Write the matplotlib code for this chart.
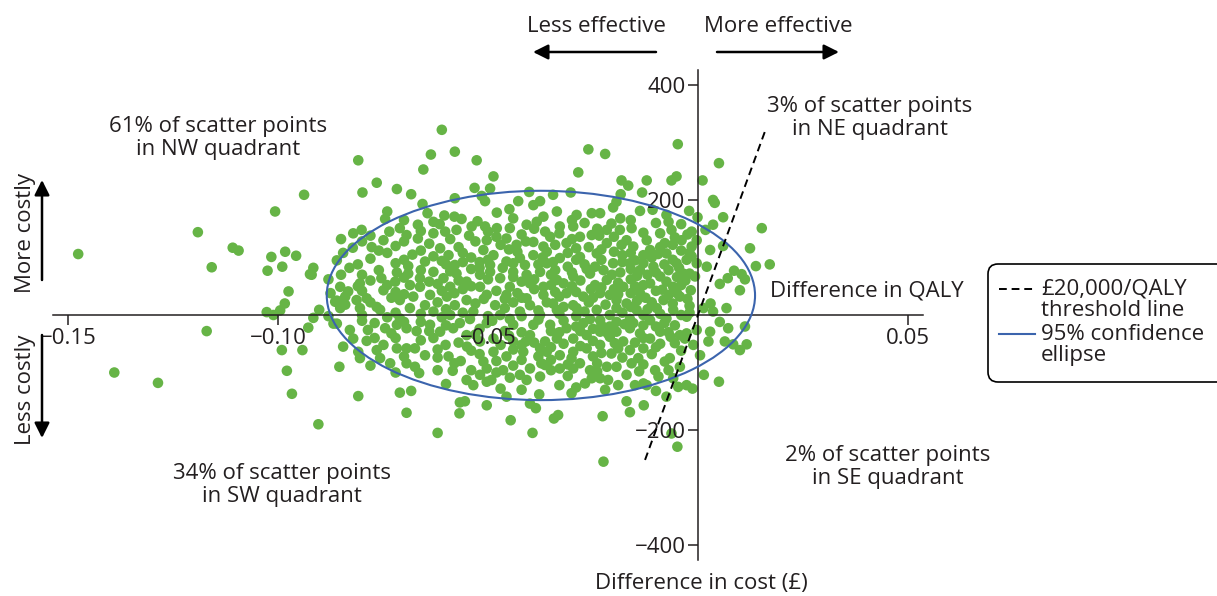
import matplotlib
matplotlib.use("Agg")
import matplotlib.pyplot as plt
from matplotlib.patches import Ellipse, FancyBboxPatch

plt.rcParams["font.family"] = ["Open Sans", "DejaVu Sans"]

west_points = [
    (-0.1476, 106), (-0.1191, 144), (-0.1158, 83), (-0.1108, 117), (-0.1094, 112),
    (-0.1007, 180), (-0.0938, 209), (-0.1016, 101), (-0.0983, 110), (-0.0957, 103),
    (-0.1025, 77), (-0.0990, 84), (-0.0924, 71), (-0.0975, 41), (-0.0984, 20),
    (-0.0995, 8), (-0.1027, 5), (-0.1011, 0), (-0.0916, 82), (-0.0920, 70),
    (-0.1170, -28), (-0.0991, -61), (-0.0942, -61), (-0.0928, -22), (-0.0916, -5),
    (-0.0902, 9), (-0.0868, -15), (-0.0864, 23), (-0.1390, -100), (-0.1286, -118),
    (-0.0979, -97), (-0.0967, -137), (-0.0854, -90), (-0.0809, -141), (-0.0904, -190),
]

north_points = [
    (-0.0610, 322), (-0.0579, 284), (-0.0636, 279), (-0.0527, 269), (-0.0809, 269),
    (-0.0654, 253), (-0.0487, 241), (-0.0765, 230), (-0.0799, 213), (-0.0717, 219),
    (-0.0683, 210), (-0.0532, 221), (-0.0495, 220), (-0.0579, 203), (-0.0515, 207),
    (-0.0507, 198), (-0.0048, 297), (-0.0261, 288), (-0.0221, 280), (-0.0285, 248),
    (-0.0182, 234), (-0.0166, 225), (-0.0122, 234), (-0.0063, 234), (-0.0051, 241),
    (-0.0133, 213), (-0.0184, 210), (-0.0303, 213), (-0.0345, 209), (-0.0194, 197),
    (-0.0202, 187),
]

core_upper = [
    (-0.0656, 193), (-0.0740, 180), (-0.0745, 167), (-0.0644, 177), (-0.0630, 162),
    (-0.0604, 173), (-0.0479, 178), (-0.0449, 184), (-0.0428, 198), (-0.0402, 214),
    (-0.0392, 191), (-0.0376, 198), (-0.0580, 171), (-0.0563, 167), (-0.0850, 132),
    (-0.0821, 142), (-0.0801, 148), (-0.0845, 108), (-0.0822, 117), (-0.0777, 118),
    (-0.0749, 130), (-0.0710, 151), (-0.0694, 139), (-0.0667, 157), (-0.0667, 133),
    (-0.0630, 142), (-0.0602, 145), (-0.0575, 148), (-0.0539, 154), (-0.0507, 154),
    (-0.0479, 151), (-0.0448, 151), (-0.0408, 157), (-0.0384, 162), (-0.0364, 145),
    (-0.0503, 130), (-0.0456, 133), (-0.0432, 122), (-0.0392, 127), (-0.0680, 105),
    (-0.0650, 93), (-0.0614, 116), (-0.0594, 104), (-0.0560, 92), (-0.0511, 113),
    (-0.0487, 104), (-0.0456, 93), (-0.0424, 99), (-0.0392, 104), (-0.0360, 110),
    (-0.0760, 78), (-0.0754, 64), (-0.0717, 74), (-0.0721, 58), (-0.0805, 55),
    (-0.0852, 49), (-0.0833, 41), (-0.0860, 25), (-0.0813, 26), (-0.0789, 29),
    (-0.0749, 43), (-0.0686, 52), (-0.0662, 64), (-0.0630, 75), (-0.0606, 64),
    (-0.0575, 72), (-0.0551, 58), (-0.0519, 70), (-0.0495, 75), (-0.0471, 64),
    (-0.0440, 75), (-0.0408, 70), (-0.0376, 75), (-0.0678, 32), (-0.0638, 35),
    (-0.0598, 32), (-0.0551, 26), (-0.0503, 35), (-0.0456, 35), (-0.0408, 29),
    (-0.0368, 35), (-0.0710, 26), (-0.0765, 14), (-0.0662, 49), (-0.0590, 49),
    (-0.0519, 49), (-0.0448, 49), (-0.0579, 87), (-0.0495, 87), (-0.0412, 87),
    (-0.0650, 17), (-0.0579, 17), (-0.0483, 17), (-0.0400, 17),
    (-0.0108, 183), (-0.0075, 174), (-0.0021, 181), (-0.0001, 170), (-0.0138, 181),
    (-0.0003, 90), (-0.0007, 67), (-0.0017, 43), (-0.0035, 72), (-0.0051, 90),
    (-0.0027, 96), (-0.0003, 130), (-0.0015, 145), (-0.0039, 130), (-0.0015, 119),
    (-0.0063, 148), (-0.0090, 142), (-0.0079, 125), (-0.0122, 130), (-0.0114, 113),
    (-0.0075, 107), (-0.0158, 151), (-0.0186, 148), (-0.0206, 159), (-0.0233, 177),
    (-0.0253, 177), (-0.0289, 174), (-0.0336, 180), (-0.0368, 171), (-0.0329, 154),
    (-0.0297, 154), (-0.0217, 148), (-0.0253, 139), (-0.0281, 136), (-0.0313, 125),
    (-0.0352, 136), (-0.0368, 119), (-0.0217, 125), (-0.0182, 122), (-0.0154, 119),
    (-0.0241, 107), (-0.0281, 101), (-0.0329, 99), (-0.0360, 90), (-0.0202, 90),
    (-0.0162, 90), (-0.0138, 78), (-0.0106, 84), (-0.0090, 67), (-0.0114, 55),
    (-0.0059, 49), (-0.0043, 32), (-0.0082, 26), (-0.0138, 38), (-0.0178, 49),
    (-0.0217, 61), (-0.0257, 72), (-0.0297, 67), (-0.0336, 61), (-0.0368, 49),
    (-0.0313, 38), (-0.0273, 32), (-0.0233, 38), (-0.0194, 26), (-0.0170, 20),
    (-0.0345, 20), (-0.0297, 17), (-0.0059, 9), (-0.0098, 12), (-0.0146, 9),
    (-0.0194, 12), (-0.0241, 9), (-0.0289, 12), (-0.0336, 9), (-0.0630, 6),
    (-0.0535, 6), (-0.0424, 6), (-0.0852, 12), (-0.0805, 12), (-0.0757, 9),
    (-0.0686, 12),
]

# extra points in the crowded middle of the cloud above the QALY axis
core_upper_dense = [
    (-0.0700, 165), (-0.0615, 158), (-0.0525, 163), (-0.0440, 168), (-0.0300, 165),
    (-0.0185, 168), (-0.0100, 160), (-0.0040, 158), (-0.0780, 138), (-0.0735, 145),
    (-0.0545, 138), (-0.0420, 140), (-0.0330, 142), (-0.0235, 138), (-0.0130, 143),
    (-0.0055, 135), (-0.0240, 150), (-0.0800, 128), (-0.0720, 120), (-0.0640, 124),
    (-0.0570, 118), (-0.0530, 128), (-0.0470, 122), (-0.0340, 122), (-0.0260, 118),
    (-0.0200, 110), (-0.0130, 104), (-0.0090, 118), (-0.0040, 112), (-0.0860, 95),
    (-0.0780, 98), (-0.0740, 108), (-0.0700, 96), (-0.0630, 102), (-0.0540, 100),
    (-0.0500, 96), (-0.0430, 110), (-0.0310, 108), (-0.0270, 88), (-0.0230, 96),
    (-0.0180, 104), (-0.0150, 95), (-0.0110, 100), (-0.0060, 96), (-0.0015, 102),
    (-0.0830, 82), (-0.0800, 70), (-0.0690, 85), (-0.0660, 78), (-0.0600, 88),
    (-0.0540, 80), (-0.0465, 82), (-0.0380, 88), (-0.0340, 78), (-0.0310, 84),
    (-0.0225, 78), (-0.0185, 74), (-0.0160, 80), (-0.0120, 70), (-0.0070, 78),
    (-0.0020, 72), (-0.0880, 62), (-0.0780, 60), (-0.0700, 65), (-0.0640, 58),
    (-0.0570, 60), (-0.0500, 62), (-0.0420, 58), (-0.0350, 70), (-0.0320, 55),
    (-0.0280, 60), (-0.0245, 52), (-0.0200, 45), (-0.0160, 62), (-0.0130, 52),
    (-0.0075, 58), (-0.0030, 60), (-0.0875, 38), (-0.0800, 42), (-0.0720, 40),
    (-0.0610, 42), (-0.0560, 45), (-0.0480, 42), (-0.0430, 38), (-0.0390, 45),
    (-0.0330, 32), (-0.0290, 40), (-0.0255, 45), (-0.0210, 35), (-0.0160, 38),
    (-0.0100, 42), (-0.0070, 35), (-0.0025, 28), (-0.0840, 18), (-0.0780, 22),
    (-0.0730, 30), (-0.0620, 22), (-0.0530, 20), (-0.0510, 28), (-0.0440, 22),
    (-0.0360, 22), (-0.0320, 14), (-0.0260, 22), (-0.0220, 18), (-0.0145, 25),
    (-0.0110, 22), (-0.0060, 20), (-0.0020, 16),
    (-0.0660, 146), (-0.0500, 145), (-0.0390, 150), (-0.0270, 160), (-0.0160, 165),
    (-0.0070, 162), (-0.0700, 128), (-0.0590, 132), (-0.0480, 136), (-0.0410, 128),
    (-0.0300, 132), (-0.0200, 136), (-0.0170, 130), (-0.0060, 122), (-0.0025, 140),
    (-0.0760, 112), (-0.0660, 112), (-0.0560, 108), (-0.0450, 114), (-0.0370, 100),
    (-0.0290, 116), (-0.0230, 114), (-0.0160, 108), (-0.0095, 106), (-0.0020, 108),
    (-0.0810, 88), (-0.0720, 90), (-0.0610, 94), (-0.0520, 92), (-0.0440, 90),
    (-0.0345, 92), (-0.0290, 96), (-0.0245, 84), (-0.0180, 92), (-0.0130, 90),
    (-0.0080, 88), (-0.0045, 82), (-0.0850, 70), (-0.0690, 72), (-0.0590, 76),
    (-0.0520, 82), (-0.0440, 66), (-0.0390, 62), (-0.0300, 74), (-0.0265, 80),
    (-0.0205, 70), (-0.0145, 68), (-0.0100, 74), (-0.0050, 66), (-0.0810, 50),
    (-0.0740, 52), (-0.0620, 54), (-0.0540, 50), (-0.0400, 55), (-0.0350, 52),
    (-0.0300, 50), (-0.0230, 48), (-0.0190, 56), (-0.0150, 50), (-0.0085, 44),
    (-0.0040, 52), (-0.0840, 32), (-0.0700, 36), (-0.0580, 38), (-0.0460, 28),
    (-0.0420, 30), (-0.0340, 40), (-0.0250, 30), (-0.0190, 36), (-0.0125, 30),
    (-0.0050, 38), (-0.0720, 4), (-0.0600, 10), (-0.0460, 12), (-0.0380, 8),
    (-0.0270, 6), (-0.0160, 14), (-0.0120, 10), (-0.0020, 4),
]

east_points = [
    (0.0050, 264), (0.0011, 234), (0.0036, 200), (0.0040, 195), (0.0060, 170),
    (0.0152, 151), (0.0036, 157), (0.0018, 148), (0.0029, 113), (0.0060, 120),
    (0.0124, 116), (0.0138, 85), (0.0171, 88), (0.0086, 77), (0.0104, 71),
    (0.0112, 62), (0.0071, 64), (0.0100, 43), (0.0052, 54), (0.0021, 84),
    (0.0030, 20), (0.0068, 12), (0.0036, 6), (0.0013, 12),
    (0.0100, -61), (0.0116, -51), (0.0084, -51), (0.0064, -46), (0.0112, -20),
    (0.0072, -23), (0.0052, -12), (0.0029, -29), (0.0025, -46), (0.0005, -70),
    (0.0014, -104), (0.0050, -116),
]

core_lower = [
    (-0.0003, -26), (-0.0011, -52), (-0.0027, -32), (-0.0031, -41), (-0.0055, -49),
    (-0.0067, -75), (-0.0079, -81), (-0.0043, -90), (-0.0059, -110), (-0.0047, -125),
    (-0.0027, -122), (-0.0013, -128), (-0.0102, -96), (-0.0094, -107), (-0.0130, -119),
    (-0.0150, -122), (-0.0122, -122), (-0.0301, -136), (-0.0269, -119), (-0.0253, -110),
    (-0.0233, -110), (-0.0214, -113), (-0.0221, -130), (-0.0257, -96), (-0.0217, -90),
    (-0.0194, -90), (-0.0206, -67), (-0.0158, -84), (-0.0142, -75), (-0.0162, -61),
    (-0.0130, -58), (-0.0178, -46), (-0.0198, -49), (-0.0233, -52), (-0.0265, -58),
    (-0.0297, -64), (-0.0329, -70), (-0.0360, -64), (-0.0297, -93), (-0.0329, -93),
    (-0.0364, -87), (-0.0301, -75), (-0.0281, -84), (-0.0376, -107), (-0.0043, -35),
    (-0.0114, -41), (-0.0090, -29), (-0.0138, -32), (-0.0162, -23), (-0.0194, -29),
    (-0.0233, -29), (-0.0265, -35), (-0.0297, -41), (-0.0336, -41), (-0.0364, -46),
    (-0.0352, -17), (-0.0313, -23), (-0.0273, -14), (-0.0233, -9), (-0.0194, -12),
    (-0.0154, -14), (-0.0114, -9), (-0.0075, -6), (-0.0027, -3),
    (-0.0829, -26), (-0.0821, -41), (-0.0786, -26), (-0.0789, -45), (-0.0809, -64),
    (-0.0805, -75), (-0.0765, -61), (-0.0749, -52), (-0.0757, -75), (-0.0733, -84),
    (-0.0717, -58), (-0.0694, -58), (-0.0674, -58), (-0.0694, -84), (-0.0674, -90),
    (-0.0664, -101), (-0.0745, -23), (-0.0717, -17), (-0.0694, -23), (-0.0670, -28),
    (-0.0710, -6), (-0.0620, -74), (-0.0594, -72), (-0.0584, -97), (-0.0565, -80),
    (-0.0601, -52), (-0.0551, -113), (-0.0535, -122), (-0.0519, -104), (-0.0503, -116),
    (-0.0492, -113), (-0.0511, -81), (-0.0503, -93), (-0.0456, -72), (-0.0464, -96),
    (-0.0424, -104), (-0.0408, -113), (-0.0400, -93), (-0.0373, -84), (-0.0448, -109),
    (-0.0638, -17), (-0.0614, -29), (-0.0583, -23), (-0.0551, -35), (-0.0519, -46),
    (-0.0487, -41), (-0.0440, -46), (-0.0400, -35), (-0.0376, -58), (-0.0416, -64),
    (-0.0487, -64), (-0.0567, -14), (-0.0503, -14), (-0.0440, -17), (-0.0392, -17),
    (-0.0590, 0), (-0.0471, 0), (-0.0376, 0), (-0.0543, -7), (-0.0448, -7),
    (-0.0257, -7), (-0.0162, -7),
]

# extra points in the crowded middle of the cloud below the QALY axis
core_lower_dense = [
    (-0.0880, -2), (-0.0800, 0), (-0.0740, -4), (-0.0660, 2), (-0.0610, -4),
    (-0.0560, 4), (-0.0500, -2), (-0.0420, -2), (-0.0330, 2), (-0.0290, -2),
    (-0.0210, 0), (-0.0180, 4), (-0.0130, 0), (-0.0090, 2), (-0.0040, 0),
    (-0.0860, -15), (-0.0770, -14), (-0.0660, -12), (-0.0600, -18), (-0.0520, -24),
    (-0.0460, -28), (-0.0420, -30), (-0.0350, -28), (-0.0290, -20), (-0.0250, -24),
    (-0.0210, -20), (-0.0130, -18), (-0.0100, -20), (-0.0055, -18), (-0.0845, -55),
    (-0.0770, -40), (-0.0720, -40), (-0.0660, -44), (-0.0630, -40), (-0.0570, -48),
    (-0.0470, -52), (-0.0410, -46), (-0.0390, -48), (-0.0320, -50), (-0.0250, -45),
    (-0.0210, -38), (-0.0150, -48), (-0.0090, -50), (-0.0065, -38), (-0.0780, -88),
    (-0.0700, -72), (-0.0650, -70), (-0.0540, -62), (-0.0520, -68), (-0.0440, -60),
    (-0.0380, -72), (-0.0350, -78), (-0.0250, -72), (-0.0230, -66), (-0.0180, -74),
    (-0.0110, -68), (-0.0040, -62), (-0.0720, -100), (-0.0620, -96), (-0.0540, -96),
    (-0.0480, -100), (-0.0440, -88), (-0.0350, -96), (-0.0310, -106), (-0.0240, -98),
    (-0.0170, -104), (-0.0140, -98), (-0.0070, -96), (-0.0600, -120), (-0.0470, -128),
    (-0.0420, -130), (-0.0330, -122), (-0.0290, -126), (-0.0190, -122), (-0.0100, -132),
    (-0.0800, -10), (-0.0700, -12), (-0.0490, -10), (-0.0380, -8), (-0.0320, -10),
    (-0.0230, -18), (-0.0175, -16), (-0.0080, -14), (-0.0730, -32), (-0.0640, -28),
    (-0.0530, -34), (-0.0450, -36), (-0.0330, -30), (-0.0280, -28), (-0.0215, -32),
    (-0.0130, -40), (-0.0070, -30), (-0.0620, -60), (-0.0550, -55), (-0.0420, -52),
    (-0.0350, -56), (-0.0280, -54), (-0.0190, -58), (-0.0100, -56), (-0.0580, -84),
    (-0.0480, -80), (-0.0420, -78), (-0.0310, -86), (-0.0240, -84), (-0.0130, -86),
]

south_points = [
    (-0.0075, -142), (-0.0170, -150), (-0.0129, -157), (-0.0162, -169), (-0.0227, -176),
    (-0.0225, -255), (-0.0063, -206), (-0.0049, -229), (-0.0333, -174), (-0.0343, -180),
    (-0.0694, -170), (-0.0710, -135), (-0.0683, -132), (-0.0620, -205), (-0.0568, -171),
    (-0.0567, -152), (-0.0555, -150), (-0.0503, -157), (-0.0446, -183), (-0.0394, -205),
    (-0.0400, -154), (-0.0386, -162), (-0.0378, -138), (-0.0456, -142),
]

# 95% confidence ellipse (centre, semi-axes) and willingness to pay
ellipse_centre = (-0.0374, 34)
ellipse_semi = (0.0510, 182)
wtp = 20000
threshold_qaly = [-0.0126, 0.0162]

x_ticks = [-0.15, -0.10, -0.05, 0.05]
x_ticklabels = ["\u22120.15", "\u22120.10", "\u22120.05", "0.05"]
y_ticks = [-400, -200, 200, 400]
y_ticklabels = ["\u2212400", "\u2212200", "200", "400"]

quadrant_notes = [
    ("61% of scatter points\nin NW quadrant", 218, 138),
    ("3% of scatter points\nin NE quadrant", 870, 118),
    ("34% of scatter points\nin SW quadrant", 282, 485),
    ("2% of scatter points\nin SE quadrant", 888, 467),
]

ink = "#231f20"
green = "#66b446"
blue = "#3b64ad"
fs = 16

all_points = (west_points + north_points + core_upper + core_upper_dense
              + east_points + core_lower + core_lower_dense + south_points)
d_qaly = [p[0] for p in all_points]
d_cost = [p[1] for p in all_points]

W, H = 1217, 596
fig = plt.figure(figsize=(W / 100, H / 100), dpi=100)
ax = fig.add_axes([53 / W, 1 - 560 / H, 870 / W, 490 / H])
ax.set_xlim(-0.1536, 0.0536)
ax.set_ylim(-426, 426)
ax.patch.set_visible(False)
ax.set_axisbelow(False)

for side in ["top", "right"]:
    ax.spines[side].set_visible(False)
for side in ["left", "bottom"]:
    ax.spines[side].set_position(("data", 0))
    ax.spines[side].set_linewidth(1.1)
    ax.spines[side].set_color(ink)

ax.set_xticks(x_ticks)
ax.set_xticklabels(x_ticklabels)
ax.set_yticks(y_ticks)
ax.set_yticklabels(y_ticklabels)
ax.tick_params(direction="out", length=7, width=1.1, color=ink,
               labelcolor=ink, labelsize=fs, pad=2)

ax.scatter(d_qaly, d_cost, s=58, color=green, edgecolors="none", zorder=2)

ax.add_patch(Ellipse(ellipse_centre, 2 * ellipse_semi[0], 2 * ellipse_semi[1],
                     fill=False, edgecolor=blue, lw=1.5, zorder=3))
ax.plot(threshold_qaly, [wtp * q for q in threshold_qaly], color="black",
        lw=1.4, ls=(0, (4, 2.5)), zorder=3)

# overlay in pixel units for annotations and legend
lax = fig.add_axes([0, 0, 1, 1])
lax.set_xlim(0, W)
lax.set_ylim(H, 0)
lax.axis("off")
lax.patch.set_visible(False)

arrow = dict(arrowstyle="-|>,head_length=0.6,head_width=0.3", color="black",
             lw=1.8, mutation_scale=15, shrinkA=0, shrinkB=0)
lax.text(596, 27, "Less effective", ha="center", va="center", fontsize=fs, color=ink)
lax.text(778, 27, "More effective", ha="center", va="center", fontsize=fs, color=ink)
lax.annotate("", xy=(533, 52), xytext=(656, 52), arrowprops=arrow)
lax.annotate("", xy=(839, 52), xytext=(717, 52), arrowprops=arrow)

lax.text(25, 233, "More costly", rotation=90, ha="center", va="center", fontsize=fs, color=ink)
lax.text(25, 390, "Less costly", rotation=90, ha="center", va="center", fontsize=fs, color=ink)
lax.annotate("", xy=(42, 180), xytext=(42, 280), arrowprops=arrow)
lax.annotate("", xy=(42, 438), xytext=(42, 335), arrowprops=arrow)

for txt, px, py in quadrant_notes:
    lax.text(px, py, txt, ha="center", va="center", multialignment="center",
             fontsize=fs, color=ink, linespacing=1.1)

lax.text(770, 291, "Difference in QALY", ha="left", va="center", fontsize=fs, color=ink)
lax.text(701, 583, "Difference in cost (\u00a3)", ha="center", va="center", fontsize=fs, color=ink)

# legend box
lax.add_patch(FancyBboxPatch((988, 264), 260, 118, boxstyle="round,pad=0,rounding_size=10",
                             facecolor="white", edgecolor="black", lw=1.2))
lax.plot([999, 1035], [289, 289], color="black", lw=1.4, ls=(0, (4, 2.5)))
lax.plot([999, 1035], [334, 334], color=blue, lw=1.5)
lax.text(1041, 289, "\u00a320,000/QALY", ha="left", va="center", fontsize=fs, color=ink)
lax.text(1041, 310, "threshold line", ha="left", va="center", fontsize=fs, color=ink)
lax.text(1041, 334, "95% confidence", ha="left", va="center", fontsize=fs, color=ink)
lax.text(1041, 356, "ellipse", ha="left", va="center", fontsize=fs, color=ink)

fig.savefig("out.png", dpi=100)
